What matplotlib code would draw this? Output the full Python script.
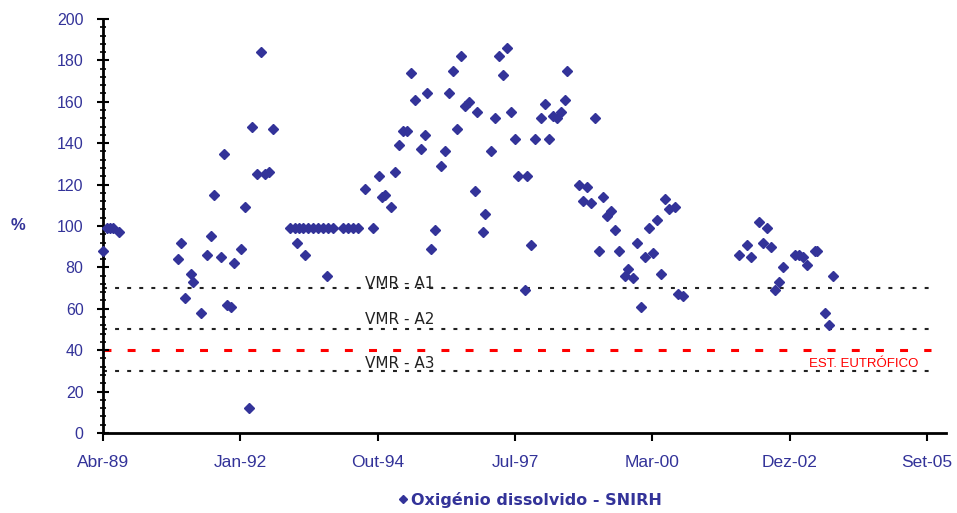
import numpy as np
import matplotlib
matplotlib.use('Agg')
import matplotlib.pyplot as plt
from matplotlib.ticker import MultipleLocator, FixedLocator, FuncFormatter
import matplotlib.dates as mdates

plt.rcParams['font.family'] = ['Liberation Sans', 'DejaVu Sans']

# datas das colheitas e valores de oxigénio dissolvido (%)
datas = [
    '1989-04-15', '1989-05-12', '1989-06-06', '1989-06-29', '1989-08-10',
    '1990-10-16', '1990-11-04', '1990-12-03', '1991-01-16', '1991-01-28',
    '1991-03-28', '1991-05-10', '1991-06-08', '1991-07-04', '1991-08-22',
    '1991-09-15', '1991-10-03', '1991-11-03', '1991-11-27', '1992-01-13',
    '1992-02-11', '1992-03-11', '1992-04-06', '1992-05-09', '1992-06-09',
    '1992-07-08', '1992-08-08', '1992-09-02',
    '1993-01-06', '1993-02-08', '1993-03-13', '1993-04-14', '1993-05-17',
    '1993-06-22', '1993-07-28', '1993-09-03', '1993-10-09', '1993-11-14',
    '1994-01-26', '1994-03-03', '1994-04-09', '1994-05-15',
    '1993-02-24', '1993-04-25', '1993-10-05',
    '1994-07-05', '1994-08-31', '1994-10-16', '1994-11-04', '1994-11-28',
    '1995-01-09', '1995-02-09', '1995-03-10', '1995-04-10', '1995-05-05',
    '1995-06-05', '1995-07-04', '1995-08-17', '1995-09-15', '1995-09-27',
    '1995-10-28', '1995-11-24', '1996-01-10', '1996-02-08', '1996-03-08',
    '1996-04-06', '1996-05-05', '1996-06-03', '1996-07-03', '1996-08-01',
    '1996-09-14', '1996-09-28', '1996-11-09', '1996-11-26', '1997-01-09',
    '1997-02-07', '1997-03-08', '1997-04-08', '1997-05-05', '1997-06-01',
    '1997-07-02', '1997-07-26', '1997-09-13', '1997-09-27', '1997-10-27',
    '1997-11-24', '1998-01-08', '1998-02-06', '1998-03-07', '1998-04-07',
    '1998-05-06', '1998-06-02', '1998-07-01', '1998-07-15', '1998-10-11',
    '1998-11-09', '1998-12-08', '1999-01-06', '1999-02-04', '1999-03-05',
    '1999-04-03', '1999-04-30', '1999-05-31', '1999-06-30', '1999-07-29',
    '1999-09-11', '1999-10-05', '1999-11-08', '1999-12-07', '2000-01-05',
    '2000-02-03', '2000-03-04', '2000-04-02', '2000-04-29', '2000-05-30',
    '2000-06-28', '2000-07-28', '2000-09-10', '2000-10-03', '2000-11-09',
    '2001-12-18', '2002-02-16', '2002-03-16', '2002-05-14', '2002-06-12',
    '2002-07-11', '2002-08-09', '2002-09-07', '2002-10-06', '2002-11-04',
    '2003-01-31', '2003-03-01', '2003-03-30', '2003-04-28', '2003-06-25',
    '2003-07-09', '2003-09-06', '2003-10-05', '2003-11-03',
]
od = [
    88, 99, 99, 99, 97,
    84, 92, 65, 77, 73,
    58, 86, 95, 115, 85,
    135, 62, 61, 82, 89,
    109, 12, 148, 125, 184,
    125, 126, 147,
    99, 99, 99, 99, 99,
    99, 99, 99, 99, 99,
    99, 99, 99, 99,
    92, 86, 76,
    118, 99, 124, 114, 115,
    109, 126, 139, 146, 146,
    174, 161, 137, 144, 164,
    89, 98, 129, 136, 164,
    175, 147, 182, 158, 160,
    117, 155, 97, 106, 136,
    152, 182, 173, 186, 155,
    142, 124, 69, 124, 91,
    142, 152, 159, 142, 153,
    152, 155, 161, 175, 120,
    112, 119, 111, 152, 88,
    114, 105, 107, 98, 88,
    76, 79, 75, 92, 61,
    85, 99, 87, 103, 77,
    113, 108, 109, 67, 66,
    86, 91, 85, 102, 92,
    99, 90, 69, 73, 80,
    86, 86, 85, 81, 88,
    88, 58, 52, 76,
]

# valores máximos recomendados e limite de eutrofização
vmr_nomes = ['VMR - A1', 'VMR - A2', 'VMR - A3']
vmr_valores = [70, 50, 30]
eutrofico = 40

meses = ['Jan', 'Fev', 'Mar', 'Abr', 'Mai', 'Jun',
         'Jul', 'Ago', 'Set', 'Out', 'Nov', 'Dez']

cor = '#333399'
x = np.array(datas, dtype='datetime64[D]')
inicio = np.datetime64('1989-04-15')
fim = inicio + np.timedelta64(6138, 'D')

fig = plt.figure(figsize=(9.57, 5.13), dpi=100)
ax = fig.add_axes([0.1076, 0.156, 0.8809, 0.807])

for v in vmr_valores:
    ax.plot([inicio, np.datetime64('2005-11-01')], [v, v], color='#222222',
            lw=1.5, ls=(0, (1.9, 3.9)), zorder=1)
ax.plot([inicio, np.datetime64('2005-10-20')], [eutrofico, eutrofico],
        color='#ff0000', lw=2.2, ls=(0, (2.6, 5.3)), zorder=1)

ax.plot(x, od, 'D', ms=5.2, color=cor, label='Oxigénio dissolvido - SNIRH',
        clip_on=False, zorder=3)

y_txt = [72.3, 55, 33.5]
for nome, yy in zip(vmr_nomes, y_txt):
    ax.text(np.datetime64('1995-03-18'), yy, nome, ha='center', va='center',
            fontsize=11, color='#222222', family='DejaVu Sans')
ax.text(np.datetime64('2004-06-16'), 33.2, 'EST. EUTRÓFICO', ha='center',
        va='center', fontsize=9.5, color='#ff0000')

ax.set_xlim(inicio, fim)
ax.set_ylim(0, 200)

ticks = inicio + np.arange(7) * np.timedelta64(1000, 'D')
ax.xaxis.set_major_locator(FixedLocator(mdates.date2num(ticks)))


def fmt_data(v, pos):
    d = mdates.num2date(v)
    return f'{meses[d.month - 1]}-{d.year % 100:02d}'


ax.xaxis.set_major_formatter(FuncFormatter(fmt_data))
ax.yaxis.set_major_locator(MultipleLocator(20))
ax.yaxis.set_minor_locator(MultipleLocator(4))

for s in ['top', 'right']:
    ax.spines[s].set_visible(False)
for s in ['left', 'bottom']:
    ax.spines[s].set_linewidth(2)
    ax.spines[s].set_color('black')

ax.tick_params(axis='x', direction='out', length=6, width=1.5, pad=10,
               labelsize=12.5, labelcolor=cor)
ax.tick_params(axis='y', which='major', direction='inout', length=8,
               width=1.5, pad=10, labelsize=11.5, labelcolor=cor)
ax.tick_params(axis='y', which='minor', direction='inout', length=5,
               width=1.2)

fig.text(18 / 957, 1 - 226 / 513, '%', fontsize=12, fontweight='bold',
         color=cor, ha='center', va='center')

leg = fig.legend(loc='center', bbox_to_anchor=(530 / 957, 1 - 500 / 513),
                 frameon=False, handlelength=0.6, handletextpad=0.2,
                 markerscale=0.85,
                 prop={'family': 'DejaVu Sans', 'weight': 'bold', 'size': 11.5})
for t in leg.get_texts():
    t.set_color(cor)

fig.savefig('out.png', dpi=100)
